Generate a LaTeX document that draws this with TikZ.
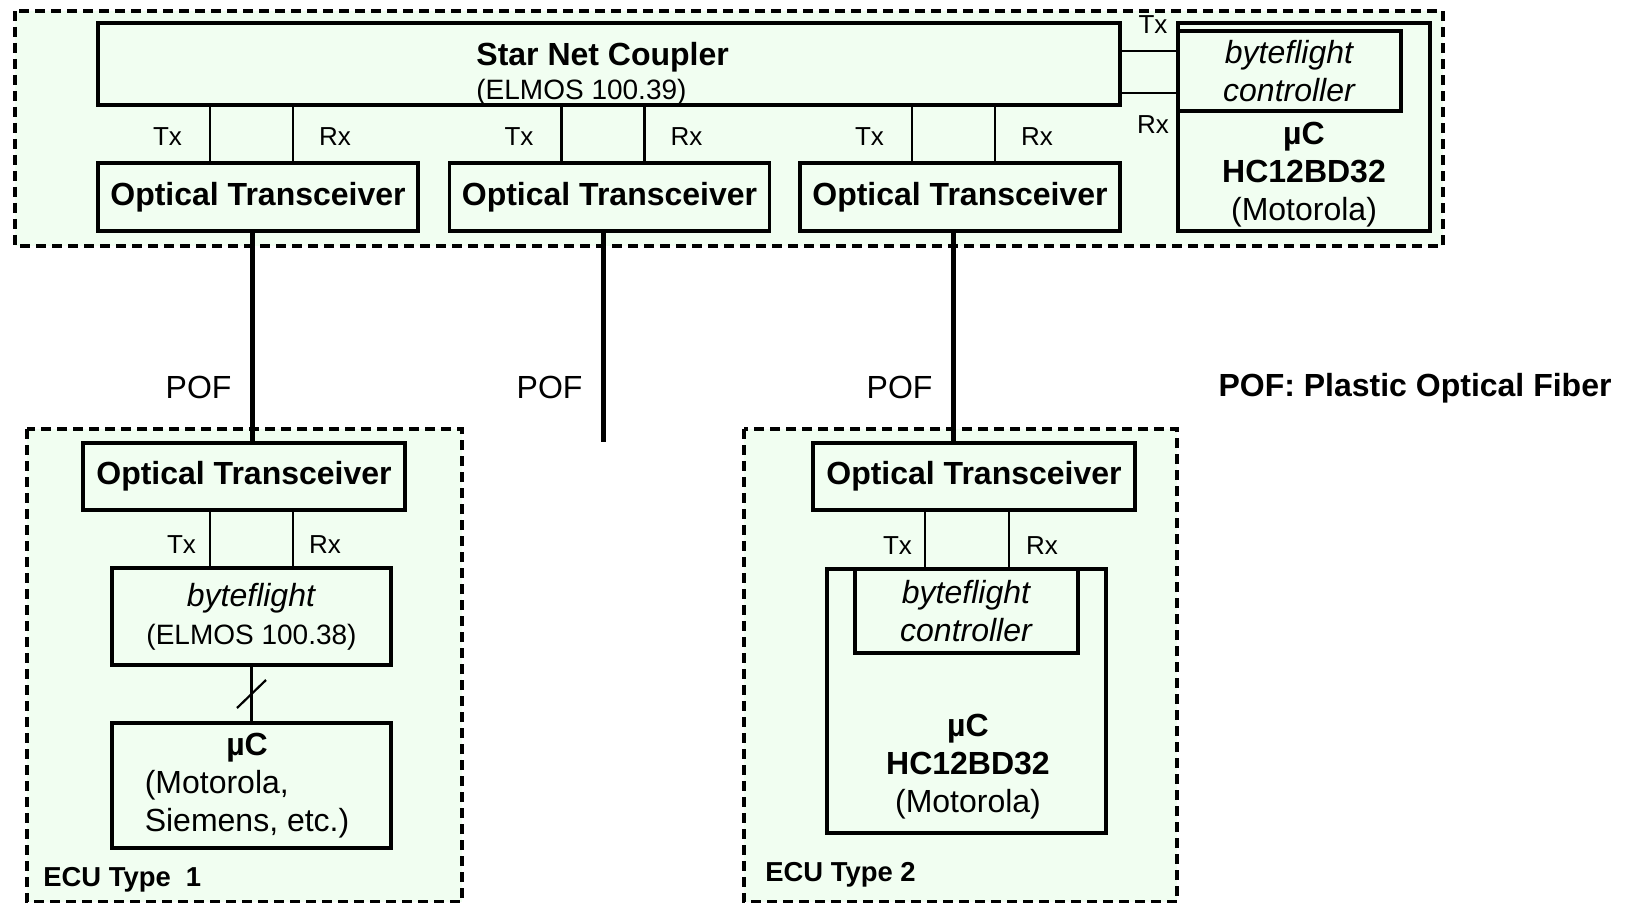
\documentclass[tikz,border=0pt]{standalone}
\usepackage{fontspec}
\setmainfont{Liberation Sans}
\usepackage{xcolor}
\usepackage{tikz}
\usetikzlibrary{calc}

\definecolor{ecugreen}{RGB}{241,254,241}

\tikzset{
	box/.style={draw, line width=1.6pt, fill=ecugreen, inner sep=0pt, align=center,
		font=\fontsize{16}{19}\selectfont},
	wire/.style={line width=1.1pt},
	fiber/.style={line width=2.5pt},
	ecu/.style={draw, line width=1.7pt, dash pattern=on 5pt off 3pt, fill=ecugreen},
	port/.style={inner sep=0pt, font=\fontsize{13}{15}\selectfont},
	fibername/.style={inner sep=0pt, font=\fontsize{16}{19}\selectfont},
	boxtext/.style={inner sep=0pt, align=center, font=\fontsize{16}{19}\selectfont},
	ecutitle/.style={inner sep=0pt, anchor=west, font=\fontsize{13.7}{16}\selectfont\bfseries}
}

\begin{document}
\begin{tikzpicture}[x=0.5pt, y=-0.5pt]
			\useasboundingbox (0,0) rectangle (1631,903);

			% dashed areas
			\draw[ecu] (15,11) rectangle (1443,246);
			\draw[ecu] (27,429) rectangle (462,902);
			\draw[ecu] (744,429) rectangle (1177,902);

			% star coupler
			\node[box, minimum width=511pt, minimum height=41pt] (coupler) at (609,64) {};
			\node[inner sep=0pt, anchor=west, align=left, font=\fontsize{16}{17}\selectfont] (couplername) at (476,74)
			{
				\textbf{Star Net Coupler}\\
				{\fontsize{14}{17}\selectfont (ELMOS 100.39)}
			};
			\node[box, minimum width=160pt, minimum height=34pt] (sot1) at (258,197) {\textbf{Optical Transceiver}};
			\node[box, minimum width=160pt, minimum height=34pt] (sot2) at (609.5,197) {\textbf{Optical Transceiver}};
			\node[box, minimum width=160pt, minimum height=34pt] (sot3) at (960,197) {\textbf{Optical Transceiver}};

			\node[box, minimum width=126pt, minimum height=104pt] (smcu) at (1304,127) {};
			\node[box, minimum width=111.5pt, minimum height=40pt] (sctrl) at (1289.5,71) {\textit{byteflight}\\\textit{controller}};
			\node[boxtext] (smcutext) at (1304,175) {\textbf{µC}\\\textbf{HC12BD32}\\(Motorola)};

			\draw[wire] ([xshift=-24pt]sot1.north) -- ([xshift=-24pt]sot1.north |- coupler.south) node[port, pos=0.45, left=13.5pt] {Tx};
			\draw[wire] ([xshift=17.5pt]sot1.north) -- ([xshift=17.5pt]sot1.north |- coupler.south) node[port, pos=0.45, right=12.5pt] {Rx};
			\draw[wire] ([xshift=-24pt]sot2.north) -- ([xshift=-24pt]sot2.north |- coupler.south) node[port, pos=0.45, left=13.5pt] {Tx};
			\draw[wire] ([xshift=17.5pt]sot2.north) -- ([xshift=17.5pt]sot2.north |- coupler.south) node[port, pos=0.45, right=12.5pt] {Rx};
			\draw[wire] ([xshift=-24pt]sot3.north) -- ([xshift=-24pt]sot3.north |- coupler.south) node[port, pos=0.45, left=13.5pt] {Tx};
			\draw[wire] ([xshift=17.5pt]sot3.north) -- ([xshift=17.5pt]sot3.north |- coupler.south) node[port, pos=0.45, right=12.5pt] {Rx};

			\draw[wire] ([yshift=6.5pt]coupler.east) -- ([yshift=6.5pt]coupler.east -| sctrl.west) node[port, midway, above=8pt, xshift=2pt] {Tx};
			\draw[wire] ([yshift=-14.5pt]coupler.east) -- ([yshift=-14.5pt]coupler.east -| sctrl.west) node[port, midway, below=11pt, xshift=2pt] {Rx};

			% ECU type 1
			\node[box, minimum width=161pt, minimum height=33.5pt] (eot1) at (244,476.5) {\textbf{Optical Transceiver}};
			\node[box, minimum width=139.5pt, minimum height=48.5pt] (ebf1) at (251.5,616.5)
				{\textit{byteflight}\\{\fontsize{14}{17}\selectfont (ELMOS 100.38)}};
			\node[box, minimum width=139.5pt, minimum height=62.5pt] (emcu1) at (251.5,785.5)
			{
				\begin{tabular}{@{}l@{}}
					\multicolumn{1}{@{}c@{}}{\textbf{µC}} \\
					(Motorola, \\
					Siemens, etc.)
				\end{tabular}
			};
			\draw[wire] ([xshift=-20.75pt]ebf1.north) -- ([xshift=-20.75pt]ebf1.north |- eot1.south) node[port, pos=0.4, left=6.5pt] {Tx};
			\draw[wire] ([xshift=20.75pt]ebf1.north) -- ([xshift=20.75pt]ebf1.north |- eot1.south) node[port, pos=0.4, right=7.5pt] {Rx};
			\draw[wire] (ebf1.south) -- coordinate[midway] (bus) (emcu1.north);
			\draw[wire] ($(bus)+(-14.5,14)$) -- ($(bus)+(14.5,-14)$);
			\node[ecutitle] (ecu1) at (43,880) {ECU Type~~1};

			% ECU type 2
			\node[box, minimum width=161pt, minimum height=33.5pt] (eot2) at (974,476.5) {\textbf{Optical Transceiver}};
			\node[box, minimum width=139.5pt, minimum height=132pt] (emcu2) at (966.5,701) {};
			\node[box, minimum width=111.5pt, minimum height=42pt] (ectrl2) at (966.5,611) {\textit{byteflight}\\\textit{controller}};
			\node[boxtext] (emcu2text) at (968,767) {\textbf{µC}\\\textbf{HC12BD32}\\(Motorola)};
			\draw[wire] ([xshift=-20.75pt]emcu2.north) -- ([xshift=-20.75pt]emcu2.north |- eot2.south) node[port, pos=0.4, left=6pt] {Tx};
			\draw[wire] ([xshift=21.25pt]emcu2.north) -- ([xshift=21.25pt]emcu2.north |- eot2.south) node[port, pos=0.4, right=8pt] {Rx};
			\node[ecutitle] (ecu2) at (765,875) {ECU Type 2};

			% plastic optical fibers
			\coordinate (pofend) at (603,442);
			\draw[fiber] ([xshift=-3pt]sot1.south) -- ([xshift=-3pt]sot1.south |- eot1.north) node[fibername, pos=0.74, left=9pt] {POF};
			\draw[fiber] ([xshift=-3.25pt]sot2.south) -- (pofend) node[fibername, pos=0.74, left=9pt] {POF};
			\draw[fiber] ([xshift=-3.5pt]sot3.south) -- ([xshift=-3.5pt]sot3.south |- eot2.north) node[fibername, pos=0.74, left=9pt] {POF};
			\node[fibername, font=\fontsize{16}{19}\selectfont\bfseries] (legend) at (1415,388) {POF: Plastic Optical Fiber};
		\end{tikzpicture}
\end{document}
